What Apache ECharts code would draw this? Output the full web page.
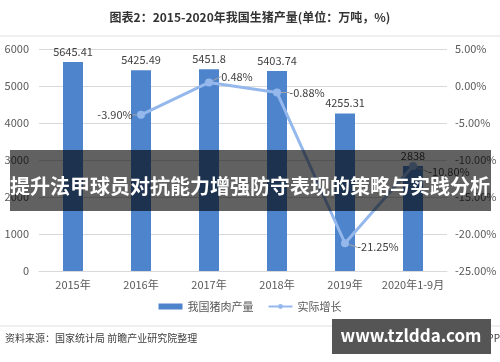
<!DOCTYPE html>
<html><head><meta charset="utf-8">
<script src="https://cdn.jsdelivr.net/npm/echarts@6/dist/echarts.min.js"></script>
<style>html,body{margin:0;padding:0;background:#fff}#c{width:500px;height:362px}</style>
</head><body><div id="c"></div>
<script>
var categories = ['2015年','2016年','2017年','2018年','2019年','2020年1-9月'];
var production = [5645.41, 5425.49, 5451.8, 5403.74, 4255.31, 2838];
var growth = [null, -3.90, 0.48, -0.88, -21.25, -10.80];
var leftTicks = {min:0, max:6000, interval:1000};
var rightTicks = {min:-25, max:5, interval:5};
var titleText = '图表2：2015-2020年我国生猪产量(单位：万吨，%)';
var bannerText = '提升法甲球员对抗能力增强防守表现的策略与实践分析';
var sourceText = '资料来源：国家统计局 前瞻产业研究院整理';
var siteText = 'www.tzldda.com';

var font = '"Noto Sans CJK SC", "Noto Sans", sans-serif';
var chart = echarts.init(document.getElementById('c'));
var labelOffsets = [[0,0],[-26,0],[28,-6],[30,0],[33,4],[36,6]];
chart.setOption({
  animation:false,
  textStyle:{fontFamily:font},
  title:{text:titleText,left:'center',top:6,textStyle:{fontSize:12,fontWeight:'bold',color:'#333',fontFamily:font}},
  grid:{left:39,right:53,top:49,bottom:91},
  legend:{bottom:45,left:'center',itemWidth:24,itemHeight:6,itemGap:14,
    textStyle:{fontSize:11,color:'#595959',fontFamily:font},
    data:[{name:'我国猪肉产量',icon:'rect'},{name:'实际增长'}]},
  xAxis:{type:'category',data:categories,
    axisLine:{lineStyle:{color:'#d9d9d9'}},axisTick:{show:false},
    axisLabel:{color:'#595959',fontSize:11,margin:8,interval:0}},
  yAxis:[
    {type:'value',min:leftTicks.min,max:leftTicks.max,interval:leftTicks.interval,
     axisLabel:{color:'#595959',fontSize:11,margin:10,formatter:function(v){return String(v);}},
     splitLine:{lineStyle:{color:'#d9d9d9'}},axisLine:{show:false},axisTick:{show:false}},
    {type:'value',min:rightTicks.min,max:rightTicks.max,interval:rightTicks.interval,
     axisLabel:{color:'#595959',fontSize:11,margin:8,formatter:function(v){return v.toFixed(2)+'%';}},
     splitLine:{show:false},axisLine:{show:false},axisTick:{show:false}}
  ],
  series:[
    {name:'我国猪肉产量',type:'bar',data:production,barWidth:20,
     itemStyle:{color:'#4e84cc'},
     label:{show:true,position:'top',distance:5,color:'#404040',fontSize:11}},
    {name:'实际增长',type:'line',yAxisIndex:1,data:growth,
     lineStyle:{color:'#95b8ec',width:3},itemStyle:{color:'#95b8ec'},
     symbol:'circle',symbolSize:8,showSymbol:true,
     label:{show:true,position:'inside',color:'#404040',fontSize:11,
       formatter:function(p){return p.value.toFixed(2)+'%';}},
     labelLine:{show:true,lineStyle:{color:'#a6a6a6',width:1}},
     labelLayout:function(p){var o=labelOffsets[p.dataIndex];return {dx:o[0],dy:o[1]};}}
  ],
  graphic:[
    {type:'line',shape:{x1:0,y1:36,x2:500,y2:36},style:{stroke:'#e0e0e0',lineWidth:1}},
    {type:'line',shape:{x1:0,y1:326,x2:500,y2:326},style:{stroke:'#e0e0e0',lineWidth:1}},
    {type:'text',left:5,top:333,style:{text:sourceText,fontSize:10,fill:'#404040',fontFamily:font}},
    {type:'text',right:0,top:333,style:{text:'@前瞻经济学人APP',fontSize:10,fill:'#404040',fontFamily:font}},
    {type:'rect',shape:{x:10,y:150,width:481,height:61},style:{fill:'rgba(0,0,0,0.62)'},z:100},
    {type:'text',x:250,y:186,z:101,style:{text:bannerText,fill:'#fff',fontSize:20,fontWeight:'bold',fontFamily:font,align:'center',verticalAlign:'middle'}},
    {type:'rect',shape:{x:332,y:319,width:159,height:35},style:{fill:'#555'},z:100},
    {type:'text',x:411,y:336,z:101,style:{text:siteText,fill:'#fff',fontSize:17,fontWeight:'bold',fontFamily:font,align:'center',verticalAlign:'middle'}}
  ]
});
</script></body></html>
